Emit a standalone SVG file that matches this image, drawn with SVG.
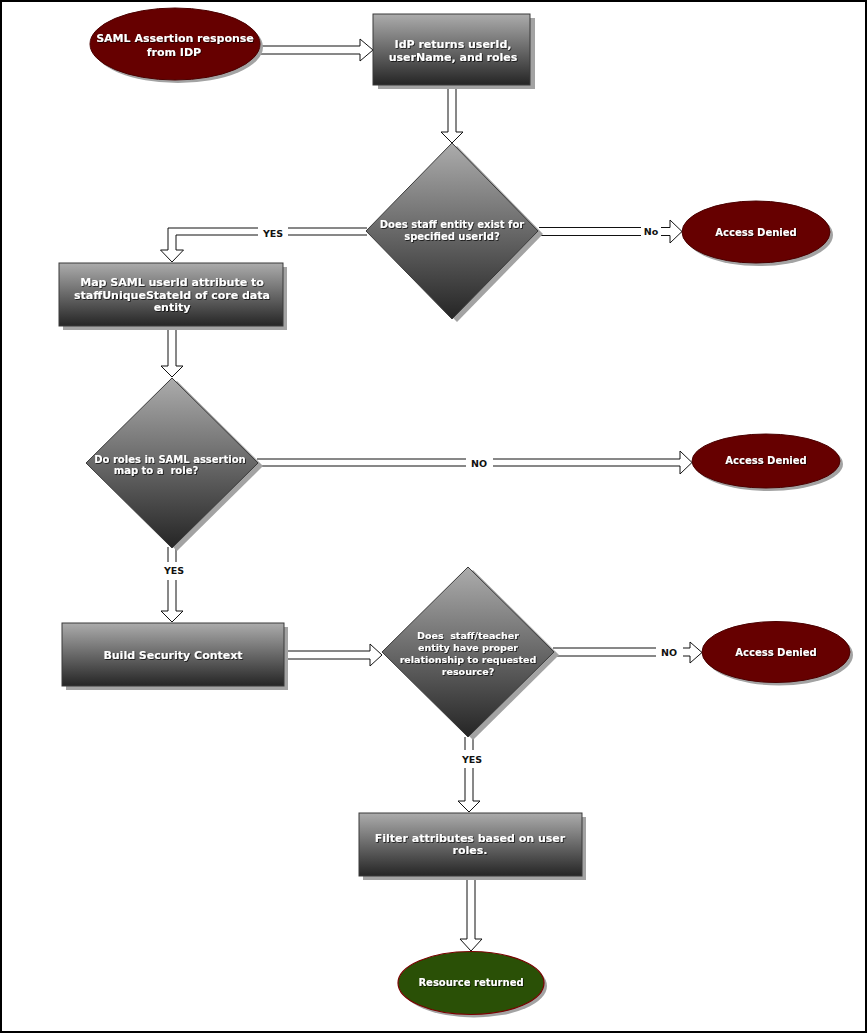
<svg xmlns="http://www.w3.org/2000/svg" width="868" height="1034" viewBox="0 0 868 1034">
  <defs>
    <linearGradient id="steel" x1="0" y1="0" x2="0" y2="1">
      <stop offset="0" stop-color="#acacac"/>
      <stop offset="1" stop-color="#252525"/>
    </linearGradient>
    <filter id="txtShadow" x="-10%" y="-30%" width="120%" height="160%">
      <feDropShadow dx="0.8" dy="0.8" stdDeviation="0.6" flood-color="#000" flood-opacity="0.85"/>
    </filter>
    <style>
      .box { fill: url(#steel); stroke: #3a3a3a; stroke-width: 1; }
      .shadow { fill: #a3a3a3; }
      .term { fill: #660000; stroke: #4a0000; stroke-width: 1; }
      .ok { fill: #2a5006; stroke: #7a0000; stroke-width: 1.2; }
      .t { font-family: "DejaVu Sans", Verdana, sans-serif; font-weight: bold; font-size: 10px; fill: #ffffff; text-anchor: middle; filter: url(#txtShadow); white-space: pre; }
      .t.big { font-size: 11px; }
      .t.small { font-size: 9.5px; }
      .lbl { font-family: "DejaVu Sans", Verdana, sans-serif; font-weight: bold; font-size: 9.5px; fill: #111111; text-anchor: middle; }
      .arrow { fill: #ffffff; stroke: #111111; stroke-width: 1; stroke-linejoin: miter; }
      .gap { fill: #ffffff; }
    </style>
  </defs>

  <rect x="0" y="0" width="868" height="1034" fill="#ffffff"/>
  <rect x="1" y="1" width="865" height="1031" fill="none" stroke="#000000" stroke-width="2"/>

  <!-- hollow block arrows -->
  <g id="connectors">
    <path class="arrow" d="M258,46 H360 V39 L373,50 L360,61 V54 H258"/>
    <path class="arrow" d="M448,85 V132 H441 L452,143 L463,132 H456 V85"/>
    <path class="arrow" d="M539,227.5 H670 V220 L682,231.5 L670,243 V235.5 H539"/>
    <rect class="gap" x="641" y="224" width="20" height="16"/>
    <text class="lbl" x="651" y="235">No</text>
    <path class="arrow" d="M367,228 H168 V250 H160.5 L172,262 L183.5,250 H176 V235 H367"/>
    <rect class="gap" x="258" y="224" width="30" height="16"/>
    <text class="lbl" x="273" y="237">YES</text>
    <path class="arrow" d="M168,326 V366 H161 L172,377 L183,366 H176 V326"/>
    <path class="arrow" d="M257,459 H680 V451 L692,462.5 L680,474 V466 H257"/>
    <rect class="gap" x="466" y="455" width="27" height="16"/>
    <text class="lbl" x="479" y="467">NO</text>
    <path class="arrow" d="M168,547 V611 H161 L172,622 L183,611 V611 H176 V547"/>
    <rect class="gap" x="160" y="562" width="26" height="18"/>
    <text class="lbl" x="174" y="574">YES</text>
    <path class="arrow" d="M284,651 H370 V644 L382,655 L370,666 V659 H284"/>
    <path class="arrow" d="M553,648 H690 V642 L702,652.5 L690,663 V656 H553"/>
    <rect class="gap" x="656" y="645" width="27" height="16"/>
    <text class="lbl" x="669" y="656">NO</text>
    <path class="arrow" d="M465,737 V801 H458 L469,812 L480,801 H473 V737"/>
    <rect class="gap" x="456" y="750" width="28" height="18"/>
    <text class="lbl" x="472" y="763">YES</text>
    <path class="arrow" d="M467,876 V939 H460 L471,951 L482,939 H475 V876"/>
  </g>

  <g id="start">
    <ellipse class="shadow" cx="178" cy="47" rx="85" ry="36"/>
    <ellipse class="term" cx="175" cy="44" rx="85" ry="36"/>
    <text class="t big" x="175" y="42">SAML Assertion response</text>
    <text class="t big" x="174" y="56">from IDP</text>
  </g>

  <g id="idp-returns">
    <rect class="shadow" x="378" y="18" width="157" height="71"/>
    <rect class="box" x="373" y="14" width="157" height="71"/>
    <text class="t big" x="453" y="48">IdP returns userId,</text>
    <text class="t big" x="453" y="61">userName, and roles</text>
  </g>

  <g id="staff-exists">
    <polygon class="shadow" points="457,146 543,234 457,322 371,234"/>
    <polygon class="box" points="452,143 538,231 452,319 366,231"/>
    <text class="t" x="452" y="228">Does staff entity exist for</text>
    <text class="t" x="452" y="240">specified userId?</text>
  </g>

  <g id="denied-1">
    <ellipse class="shadow" cx="759" cy="235" rx="74" ry="31"/>
    <ellipse class="term" cx="756" cy="232" rx="74" ry="31"/>
    <text class="t" x="756" y="235.5">Access Denied</text>
  </g>

  <g id="map-userid">
    <rect class="shadow" x="63" y="267" width="224" height="63"/>
    <rect class="box" x="59" y="263" width="224" height="63"/>
    <text class="t big" x="172" y="286">Map SAML userId attribute to</text>
    <text class="t big" x="172" y="298.5">staffUniqueStateId of core data</text>
    <text class="t big" x="172" y="310.5">entity</text>
  </g>

  <g id="roles-map">
    <polygon class="shadow" points="177,381 263,466 177,551 91,466"/>
    <polygon class="box" points="172,378 258,463 172,548 86,463"/>
    <text class="t" x="170" y="463">Do roles in SAML assertion</text>
    <text class="t" x="156" y="474">map to a  role?</text>
  </g>

  <g id="denied-2">
    <ellipse class="shadow" cx="769" cy="464" rx="74" ry="27"/>
    <ellipse class="term" cx="766" cy="461" rx="74" ry="27"/>
    <text class="t" x="766" y="463.5">Access Denied</text>
  </g>

  <g id="security-context">
    <rect class="shadow" x="66" y="627" width="222" height="63"/>
    <rect class="box" x="62" y="623" width="222" height="63"/>
    <text class="t big" x="173" y="659">Build Security Context</text>
  </g>

  <g id="relationship-check">
    <polygon class="shadow" points="473,570 559,655 473,740 387,655"/>
    <polygon class="box" points="468,567 554,652 468,737 382,652"/>
    <text class="t small" x="468" y="639">Does  staff/teacher</text>
    <text class="t small" x="468" y="651">entity have proper</text>
    <text class="t small" x="468" y="663">relationship to requested</text>
    <text class="t small" x="468" y="675">resource?</text>
  </g>

  <g id="denied-3">
    <ellipse class="shadow" cx="779" cy="655" rx="74" ry="30.5"/>
    <ellipse class="term" cx="776" cy="652" rx="74" ry="30.5"/>
    <text class="t" x="776" y="655.5">Access Denied</text>
  </g>

  <g id="filter-attributes">
    <rect class="shadow" x="363" y="817" width="223" height="63"/>
    <rect class="box" x="359" y="813" width="223" height="63"/>
    <text class="t big" x="470" y="842">Filter attributes based on user</text>
    <text class="t big" x="470" y="854">roles.</text>
  </g>

  <g id="resource-returned">
    <ellipse class="shadow" cx="474" cy="986" rx="73" ry="31.5"/>
    <ellipse class="ok" cx="471" cy="983" rx="73" ry="31.5"/>
    <text class="t" x="471" y="986">Resource returned</text>
  </g>
</svg>
